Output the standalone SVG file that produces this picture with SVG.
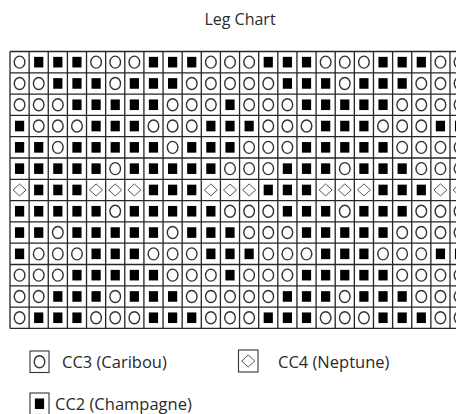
<svg xmlns="http://www.w3.org/2000/svg" xmlns:xlink="http://www.w3.org/1999/xlink" width="456" height="414" viewBox="0 0 456 414">
<style>
.t{font-family:"Open Sans","Liberation Sans",sans-serif;fill:#2a2a2a}
.grid{stroke:#262626;stroke-width:1.3;fill:none}
.box{stroke:#333;stroke-width:1.1;fill:#fff}
</style>
<defs>
<ellipse id="o" rx="5.3" ry="6" fill="#fff" stroke="#333" stroke-width="1.4"/>
<rect id="s" x="-4.6" y="-5.3" width="9.2" height="10.6" fill="#000"/>
<path id="d" d="M0,-6L6.5,0L0,6L-6.5,0Z" fill="#fff" stroke="#555" stroke-width="1"/>
<g id="A"><use href="#o" x="19.57"/><use href="#s" x="38.70"/><use href="#s" x="57.83"/><use href="#s" x="76.96"/><use href="#o" x="96.09"/><use href="#o" x="115.22"/><use href="#o" x="134.35"/><use href="#s" x="153.48"/><use href="#s" x="172.61"/><use href="#s" x="191.74"/><use href="#o" x="210.87"/><use href="#o" x="230.00"/><use href="#o" x="249.13"/><use href="#s" x="268.26"/><use href="#s" x="287.39"/><use href="#s" x="306.52"/><use href="#o" x="325.65"/><use href="#o" x="344.78"/><use href="#o" x="363.91"/><use href="#s" x="383.04"/><use href="#s" x="402.17"/><use href="#s" x="421.30"/><use href="#o" x="440.43"/><use href="#o" x="459.56"/></g>
<g id="B"><use href="#o" x="19.57"/><use href="#o" x="38.70"/><use href="#s" x="57.83"/><use href="#s" x="76.96"/><use href="#s" x="96.09"/><use href="#o" x="115.22"/><use href="#s" x="134.35"/><use href="#s" x="153.48"/><use href="#s" x="172.61"/><use href="#o" x="191.74"/><use href="#o" x="210.87"/><use href="#o" x="230.00"/><use href="#o" x="249.13"/><use href="#o" x="268.26"/><use href="#s" x="287.39"/><use href="#s" x="306.52"/><use href="#s" x="325.65"/><use href="#o" x="344.78"/><use href="#s" x="363.91"/><use href="#s" x="383.04"/><use href="#s" x="402.17"/><use href="#o" x="421.30"/><use href="#o" x="440.43"/><use href="#o" x="459.56"/></g>
<g id="C"><use href="#o" x="19.57"/><use href="#o" x="38.70"/><use href="#o" x="57.83"/><use href="#s" x="76.96"/><use href="#s" x="96.09"/><use href="#s" x="115.22"/><use href="#s" x="134.35"/><use href="#s" x="153.48"/><use href="#o" x="172.61"/><use href="#o" x="191.74"/><use href="#o" x="210.87"/><use href="#s" x="230.00"/><use href="#o" x="249.13"/><use href="#o" x="268.26"/><use href="#o" x="287.39"/><use href="#s" x="306.52"/><use href="#s" x="325.65"/><use href="#s" x="344.78"/><use href="#s" x="363.91"/><use href="#s" x="383.04"/><use href="#o" x="402.17"/><use href="#o" x="421.30"/><use href="#o" x="440.43"/><use href="#o" x="459.56"/></g>
<g id="D"><use href="#s" x="19.57"/><use href="#o" x="38.70"/><use href="#o" x="57.83"/><use href="#o" x="76.96"/><use href="#s" x="96.09"/><use href="#s" x="115.22"/><use href="#s" x="134.35"/><use href="#o" x="153.48"/><use href="#o" x="172.61"/><use href="#o" x="191.74"/><use href="#s" x="210.87"/><use href="#s" x="230.00"/><use href="#s" x="249.13"/><use href="#o" x="268.26"/><use href="#o" x="287.39"/><use href="#o" x="306.52"/><use href="#s" x="325.65"/><use href="#s" x="344.78"/><use href="#s" x="363.91"/><use href="#o" x="383.04"/><use href="#o" x="402.17"/><use href="#o" x="421.30"/><use href="#s" x="440.43"/><use href="#s" x="459.56"/></g>
<g id="E"><use href="#s" x="19.57"/><use href="#s" x="38.70"/><use href="#o" x="57.83"/><use href="#s" x="76.96"/><use href="#s" x="96.09"/><use href="#s" x="115.22"/><use href="#s" x="134.35"/><use href="#s" x="153.48"/><use href="#o" x="172.61"/><use href="#s" x="191.74"/><use href="#s" x="210.87"/><use href="#s" x="230.00"/><use href="#o" x="249.13"/><use href="#o" x="268.26"/><use href="#o" x="287.39"/><use href="#s" x="306.52"/><use href="#s" x="325.65"/><use href="#s" x="344.78"/><use href="#s" x="363.91"/><use href="#s" x="383.04"/><use href="#o" x="402.17"/><use href="#o" x="421.30"/><use href="#o" x="440.43"/><use href="#o" x="459.56"/></g>
<g id="F"><use href="#s" x="19.57"/><use href="#s" x="38.70"/><use href="#s" x="57.83"/><use href="#s" x="76.96"/><use href="#s" x="96.09"/><use href="#o" x="115.22"/><use href="#s" x="134.35"/><use href="#s" x="153.48"/><use href="#s" x="172.61"/><use href="#s" x="191.74"/><use href="#s" x="210.87"/><use href="#o" x="230.00"/><use href="#o" x="249.13"/><use href="#o" x="268.26"/><use href="#s" x="287.39"/><use href="#s" x="306.52"/><use href="#s" x="325.65"/><use href="#o" x="344.78"/><use href="#s" x="363.91"/><use href="#s" x="383.04"/><use href="#s" x="402.17"/><use href="#o" x="421.30"/><use href="#o" x="440.43"/><use href="#o" x="459.56"/></g>
<g id="G"><use href="#d" x="19.57"/><use href="#s" x="38.70"/><use href="#s" x="57.83"/><use href="#s" x="76.96"/><use href="#d" x="96.09"/><use href="#d" x="115.22"/><use href="#d" x="134.35"/><use href="#s" x="153.48"/><use href="#s" x="172.61"/><use href="#s" x="191.74"/><use href="#d" x="210.87"/><use href="#d" x="230.00"/><use href="#d" x="249.13"/><use href="#s" x="268.26"/><use href="#s" x="287.39"/><use href="#s" x="306.52"/><use href="#d" x="325.65"/><use href="#d" x="344.78"/><use href="#d" x="363.91"/><use href="#s" x="383.04"/><use href="#s" x="402.17"/><use href="#s" x="421.30"/><use href="#d" x="440.43"/><use href="#d" x="459.56"/></g>
</defs>
<rect width="456" height="414" fill="#fff"/>
<text id="title" class="t" x="240" y="25" font-size="16" text-anchor="middle">Leg Chart</text>
<g id="chart">
<g id="cells">
<use href="#A" y="62.15"/>
<use href="#B" y="83.45"/>
<use href="#C" y="104.75"/>
<use href="#D" y="126.05"/>
<use href="#E" y="147.35"/>
<use href="#F" y="168.65"/>
<use href="#G" y="189.95"/>
<use href="#F" y="211.25"/>
<use href="#E" y="232.55"/>
<use href="#D" y="253.85"/>
<use href="#C" y="275.15"/>
<use href="#B" y="296.45"/>
<use href="#A" y="317.75"/>
</g>
<path id="gridlines" class="grid" d="M10,51.5V328.4M29.13,51.5V328.4M48.26,51.5V328.4M67.39,51.5V328.4M86.52,51.5V328.4M105.65,51.5V328.4M124.78,51.5V328.4M143.91,51.5V328.4M163.04,51.5V328.4M182.17,51.5V328.4M201.3,51.5V328.4M220.43,51.5V328.4M239.56,51.5V328.4M258.69,51.5V328.4M277.82,51.5V328.4M296.95,51.5V328.4M316.08,51.5V328.4M335.21,51.5V328.4M354.34,51.5V328.4M373.47,51.5V328.4M392.6,51.5V328.4M411.73,51.5V328.4M430.86,51.5V328.4M449.99,51.5V328.4M10,51.5H456M10,72.8H456M10,94.1H456M10,115.4H456M10,136.7H456M10,158H456M10,179.3H456M10,200.6H456M10,221.9H456M10,243.2H456M10,264.5H456M10,285.8H456M10,307.1H456M10,328.4H456"/>
</g>
<g id="legend-cc3">
<rect class="box" x="30" y="351" width="19" height="21.5"/>
<use href="#o" x="39.5" y="361.75"/>
<text class="t" x="62" y="368.3" font-size="16.5">CC3 (Caribou)</text>
</g>
<g id="legend-cc4">
<rect class="box" x="238.5" y="350" width="19.5" height="22"/>
<use href="#d" x="248.25" y="361"/>
<text class="t" x="278" y="368.3" font-size="16.5">CC4 (Neptune)</text>
</g>
<g id="legend-cc2">
<rect class="box" x="30" y="393" width="19" height="21.5"/>
<use href="#s" x="39.5" y="403.75"/>
<text class="t" x="55" y="410" font-size="16.5">CC2 (Champagne)</text>
</g>
</svg>
